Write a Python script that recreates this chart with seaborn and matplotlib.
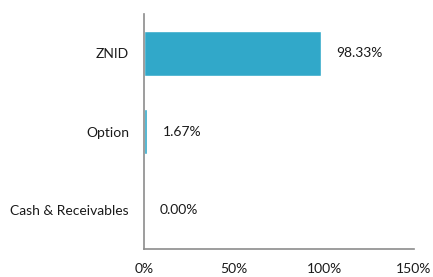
import matplotlib
matplotlib.use("Agg")
import matplotlib.pyplot as plt
import seaborn as sns
import pandas as pd

categories = ["ZNID", "Option", "Cash & Receivables"]
values = [98.33, 1.67, 0.00]
x_ticks = [0, 50, 100, 150]

df = pd.DataFrame({"category": categories, "value": values})

sns.set_style("white")
plt.rcParams["font.family"] = ["Lato", "DejaVu Sans"]

fig = plt.figure(figsize=(4.33, 2.77), dpi=100)
ax = fig.add_axes([0.333, 0.101, 0.623, 0.848])
sns.barplot(data=df, x="value", y="category", color="#31a8c9", width=0.57,
            saturation=1, ax=ax)

for c in ax.containers:
    ax.bar_label(c, labels=[f"{v:.2f}%" for v in values], padding=11,
                 fontsize=10, color="#1a1a1a")

ax.set_xlim(0, 150)
ax.set_ylim(2.5, -0.5)
ax.set_xticks(x_ticks)
ax.set_xticklabels([f"{t}%" for t in x_ticks], fontsize=10, color="#1a1a1a")
ax.tick_params(axis="x", length=0, pad=10)
ax.tick_params(axis="y", length=0, pad=11, labelsize=10, labelcolor="#1a1a1a")
ax.set_xlabel("")
ax.set_ylabel("")
for s in ["top", "right"]:
    ax.spines[s].set_visible(False)
for s in ["left", "bottom"]:
    ax.spines[s].set_color("#8c8c8c")
    ax.spines[s].set_linewidth(1.2)

fig.savefig("out.png", dpi=100)
